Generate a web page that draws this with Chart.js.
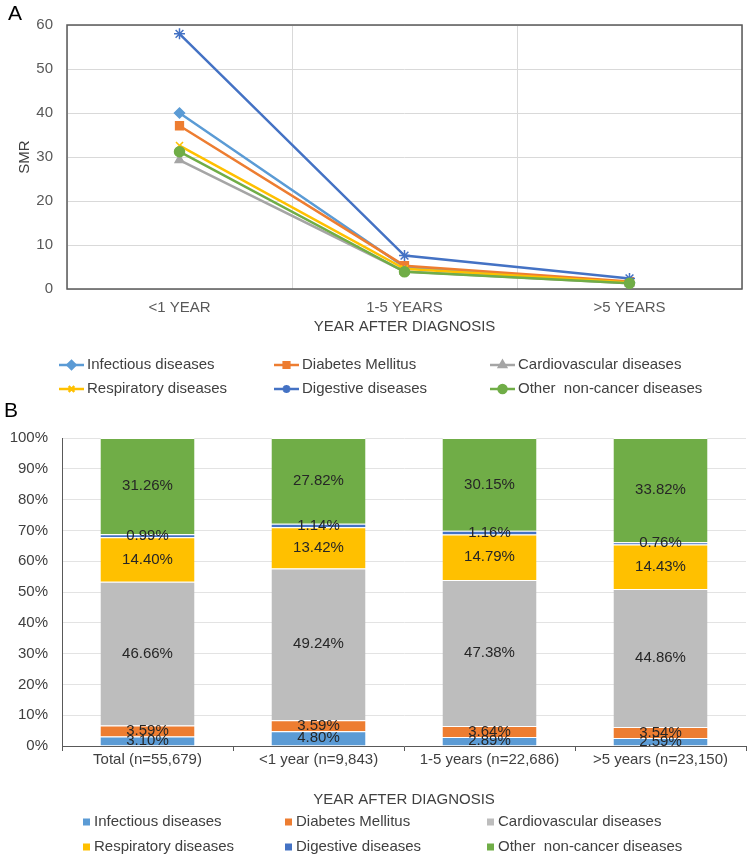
<!DOCTYPE html>
<html>
<head>
<meta charset="utf-8">
<script src="https://cdn.jsdelivr.net/npm/chart.js@4.4.1/dist/chart.umd.min.js"></script>
<style>
  body { margin: 0; background: #fff; width: 749px; height: 859px; position: relative; overflow: hidden;
         font-family: "Liberation Sans", Arial, sans-serif; }
  .panel { position: absolute; left: 0; width: 749px; }
  #boxA { top: 0; height: 400px; }
  #boxB { top: 400px; height: 459px; }
  .tag { position: absolute; font-size: 21px; line-height: 24px; color: #000; }
</style>
</head>
<body>
<div class="panel" id="boxA"><canvas id="chartA"></canvas></div>
<div class="panel" id="boxB"><canvas id="chartB"></canvas></div>
<div class="tag" style="left:8px;top:1px">A</div>
<div class="tag" style="left:4px;top:398px">B</div>
<script>
(function () {
  'use strict';

  const FONT = '"Liberation Sans", Arial, sans-serif';

  // --- A: SMR by years after diagnosis
  const yearCats = ['<1 YEAR', '1-5 YEARS', '>5 YEARS'];
  const causes = [
    'Infectious diseases',
    'Diabetes Mellitus',
    'Cardiovascular diseases',
    'Respiratory diseases',
    'Digestive diseases',
    'Other  non-cancer diseases',
  ];
  const infectiousSmr = [40.0, 5.0, 1.5];
  const diabetesSmr = [37.1, 5.3, 1.7];
  const cardioSmr = [29.3, 4.0, 1.3];
  const respiratorySmr = [32.6, 4.6, 1.5];
  const digestiveSmr = [58.0, 7.6, 2.4];
  const otherSmr = [31.2, 3.9, 1.3];
  const smrTicks = [0, 10, 20, 30, 40, 50, 60];

  // --- B: share of deaths by cause
  const groups = ['Total (n=55,679)', '<1 year (n=9,843)', '1-5 years (n=22,686)', '>5 years (n=23,150)'];
  const infectiousPct = [3.10, 4.80, 2.89, 2.59];
  const diabetesPct = [3.59, 3.59, 3.64, 3.54];
  const cardioPct = [46.66, 49.24, 47.38, 44.86];
  const respiratoryPct = [14.40, 13.42, 14.79, 14.43];
  const digestivePct = [0.99, 1.14, 1.16, 0.76];
  const otherPct = [31.26, 27.82, 30.15, 33.82];
  const pctTicks = [0, 10, 20, 30, 40, 50, 60, 70, 80, 90, 100];

  // styles
  const lineColors = ['#5B9BD5', '#ED7D31', '#A5A5A5', '#FFC000', '#4472C4', '#70AD47'];
  const barColors = ['#5B9BD5', '#ED7D31', '#BDBDBD', '#FFC000', '#4472C4', '#70AD47'];
  const markers = ['rectRot', 'rect', 'triangle', 'crossRot', 'star', 'circle'];
  const markerSize = [5, 5.5, 5, 5, 5.5, 5];

  Chart.defaults.font.family = FONT;
  Chart.defaults.font.size = 15;
  Chart.defaults.color = '#595959';
  Chart.defaults.animation = false;
  Chart.defaults.plugins.legend.display = false;
  Chart.defaults.plugins.tooltip.enabled = false;

  // legend in 3 columns, drawn in canvas
  function gridLegend(id, xs, ys, drawMark) {
    return {
      id: id,
      afterDraw: function (chart) {
        const ctx = chart.ctx;
        chart.data.datasets.forEach(function (ds, i) {
          const tx = xs[i % 3], ty = ys[Math.floor(i / 3)];
          ctx.save();
          drawMark(ctx, ds, i, tx, ty);
          ctx.fillStyle = '#404040';
          ctx.font = '15px ' + FONT;
          ctx.textAlign = 'left';
          ctx.textBaseline = 'middle';
          ctx.fillText(ds.label, tx, ty);
          ctx.restore();
        });
      }
    };
  }

  const plotBox = {
    id: 'plotBox',
    beforeDatasetsDraw: function (chart) {
      const a = chart.chartArea, ctx = chart.ctx;
      ctx.save();
      ctx.strokeStyle = '#595959';
      ctx.lineWidth = 1.5;
      ctx.strokeRect(a.left, a.top, a.right - a.left, a.bottom - a.top);
      ctx.restore();
    }
  };

  const smrSeries = [infectiousSmr, diabetesSmr, cardioSmr, respiratorySmr, digestiveSmr, otherSmr];
  const lineSets = [];
  for (let i = 0; i < causes.length; i++) {
    lineSets[i] = {
      label: causes[i],
      data: smrSeries[i],
      borderColor: lineColors[i],
      backgroundColor: lineColors[i],
      borderWidth: 2.5,
      pointStyle: markers[i],
      pointRadius: markerSize[i],
      pointBackgroundColor: lineColors[i],
      pointBorderColor: lineColors[i],
      pointBorderWidth: 1.5,
      tension: 0,
      order: causes.length - i,
    };
  }

  new Chart(document.getElementById('chartA'), {
    type: 'line',
    data: { labels: yearCats, datasets: lineSets },
    options: {
      responsive: true,
      maintainAspectRatio: false,
      layout: { padding: { top: 25, right: 4, bottom: 61, left: 0 } },
      scales: {
        x: {
          offset: true,
          grid: { offset: true, color: '#D9D9D9', drawTicks: false },
          border: { display: false },
          ticks: { padding: 10, color: '#595959' },
          title: { display: true, text: 'YEAR AFTER DIAGNOSIS', color: '#404040', padding: { top: 4, bottom: 3 } },
          afterFit: function (s) { s.height = 50; },
        },
        y: {
          min: 0,
          max: 60,
          afterBuildTicks: function (s) { s.ticks = smrTicks.map(function (v) { return { value: v }; }); },
          grid: { color: '#D9D9D9', drawTicks: false },
          border: { display: false },
          ticks: { padding: 14, color: '#595959' },
          title: { display: true, text: 'SMR', color: '#404040', padding: { top: 16, bottom: 4 } },
          afterFit: function (s) { s.width = 67; },
        }
      }
    },
    plugins: [plotBox, gridLegend('legendA', [87, 302, 518], [365, 389], function (ctx, ds, i, tx, ty) {
      ctx.strokeStyle = ds.borderColor;
      ctx.lineWidth = 2.5;
      ctx.beginPath();
      ctx.moveTo(tx - 28, ty);
      ctx.lineTo(tx - 3, ty);
      ctx.stroke();
      ctx.fillStyle = ds.pointBackgroundColor;
      ctx.strokeStyle = ds.pointBorderColor;
      Chart.helpers.drawPoint(ctx, { pointStyle: ds.pointStyle, radius: 4, borderWidth: 1.5, rotation: 0 }, tx - 15.5, ty);
    })]
  });

  const pctSeries = [infectiousPct, diabetesPct, cardioPct, respiratoryPct, digestivePct, otherPct];
  const barSets = [];
  for (let i = 0; i < causes.length; i++) {
    barSets[i] = {
      label: causes[i],
      data: pctSeries[i],
      backgroundColor: barColors[i],
      borderColor: '#ffffff',
      borderWidth: { top: 1, bottom: 0, left: 0, right: 0 },
      borderSkipped: false,
      categoryPercentage: 1,
      barPercentage: 0.55,
    };
  }

  // value labels in the middle of each segment
  const segLabels = {
    id: 'segLabels',
    afterDatasetsDraw: function (chart) {
      const ctx = chart.ctx, a = chart.chartArea;
      ctx.save();
      ctx.beginPath();
      ctx.rect(a.left, a.top, a.right - a.left, a.bottom - a.top);
      ctx.clip();
      ctx.font = '15px ' + FONT;
      ctx.fillStyle = '#262626';
      ctx.textAlign = 'center';
      ctx.textBaseline = 'middle';
      chart.data.datasets.forEach(function (ds, i) {
        chart.getDatasetMeta(i).data.forEach(function (bar, j) {
          const c = bar.getCenterPoint();
          ctx.fillText(ds.data[j].toFixed(2) + '%', c.x, c.y);
        });
      });
      ctx.restore();
    }
  };

  new Chart(document.getElementById('chartB'), {
    type: 'bar',
    data: { labels: groups, datasets: barSets },
    options: {
      responsive: true,
      maintainAspectRatio: false,
      layout: { padding: { top: 38, right: 3, bottom: 45, left: 0 } },
      scales: {
        x: {
          stacked: true,
          grid: { offset: true, drawOnChartArea: false, drawTicks: true, tickLength: 5, color: '#595959' },
          border: { display: true, color: '#595959', width: 1 },
          ticks: { padding: 0, color: '#404040' },
          title: { display: true, text: 'YEAR AFTER DIAGNOSIS', color: '#404040', padding: { top: 4, bottom: 5 } },
          afterFit: function (s) { s.height = 68; },
        },
        y: {
          stacked: true,
          min: 0,
          max: 100,
          afterBuildTicks: function (s) { s.ticks = pctTicks.map(function (v) { return { value: v }; }); },
          grid: { color: '#E3E3E3', drawTicks: false },
          border: { display: true, color: '#595959', width: 1 },
          ticks: { padding: 14, color: '#404040', callback: function (v) { return v + '%'; } },
          afterFit: function (s) { s.width = 62; },
        }
      }
    },
    plugins: [segLabels, gridLegend('legendB', [94, 296, 498], [422, 447], function (ctx, ds, i, tx, ty) {
      ctx.fillStyle = ds.backgroundColor;
      ctx.fillRect(tx - 11, ty - 3.5, 7, 7);
    })]
  });

})();
</script>
</body>
</html>
